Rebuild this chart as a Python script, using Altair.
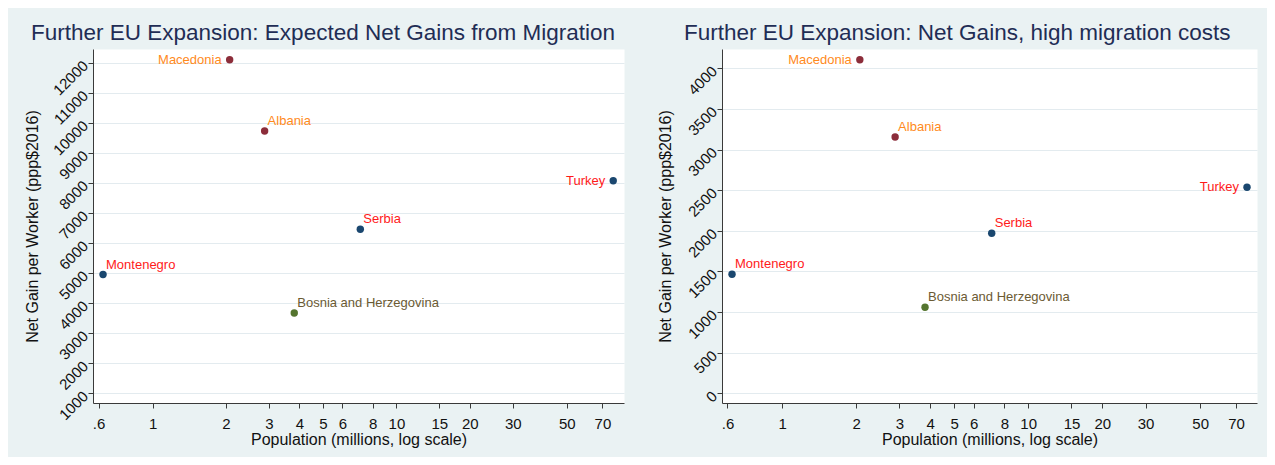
import altair as alt
import pandas as pd

# ---- data ----
countries = ["Macedonia", "Albania", "Turkey", "Serbia", "Bosnia and Herzegovina", "Montenegro"]
status = ["Candidate", "Candidate", "Negotiating", "Negotiating", "Potential candidate", "Negotiating"]

population = [2.07, 2.88, 77.5, 7.11, 3.81, 0.626]  # millions
gain_left = [12100, 9730, 8070, 6460, 3670, 4950]  # expected net gain
gain_right = [4105, 3155, 2535, 1970, 1060, 1465]  # high migration costs

x_ticks = [0.6, 1, 2, 3, 4, 5, 6, 8, 10, 15, 20, 30, 50, 70]
x_tick_labels = [".6", "1", "2", "3", "4", "5", "6", "8", "10", "15", "20", "30", "50", "70"]
y_ticks_left = [1000, 2000, 3000, 4000, 5000, 6000, 7000, 8000, 9000, 10000, 11000, 12000]
y_ticks_right = [0, 500, 1000, 1500, 2000, 2500, 3000, 3500, 4000]

left_labeled = ["Macedonia", "Turkey"]

status_order = ["Candidate", "Negotiating", "Potential candidate"]
dot_colors = ["#8C2D3A", "#1A476F", "#55752F"]
label_colors = ["#FF8A1C", "#FF1A1A", "#6B5A33"]

FONT = "Liberation Sans"
TITLE_COLOR = "#1F2D55"

label_expr = " : ".join(
    [f"datum.value == {v} ? '{l}'" for v, l in zip(x_ticks, x_tick_labels)] + ["datum.label"]
)


def panel(gain, title, title_dx, xdom, ydom, yticks, ytitle_x, w, h):
    df = pd.DataFrame({"country": countries, "status": status, "pop": population, "gain": gain})
    x = alt.X(
        "pop:Q",
        scale=alt.Scale(type="log", domain=xdom, nice=False),
        axis=alt.Axis(
            values=x_ticks,
            tickCount=40,
            labelExpr=label_expr,
            labelOverlap=False,
            grid=False,
            title="Population (millions, log scale)",
            titleY=36,
            titleAlign="center",
            titleBaseline="middle",
            labelPadding=8,
        ),
    )
    y = alt.Y(
        "gain:Q",
        scale=alt.Scale(domain=ydom, nice=False, zero=False),
        axis=alt.Axis(
            values=yticks,
            tickCount=40,
            format="d",
            labelOverlap=False,
            labelAngle=315,
            labelAlign="right",
            labelBaseline="middle",
            labelPadding=3,
            grid=True,
            title="Net Gain per Worker (ppp$2016)",
            titleAngle=270,
            titleX=ytitle_x,
            titleY=177,
            titleAlign="center",
            titleBaseline="middle",
        ),
    )
    base = alt.Chart(df)
    dots = base.mark_circle(size=55, opacity=1).encode(
        x=x,
        y=y,
        color=alt.Color("status:N", scale=alt.Scale(domain=status_order, range=dot_colors), legend=None),
    )
    lab_color = alt.Color("status:N", scale=alt.Scale(domain=status_order, range=label_colors), legend=None)
    txt_right = base.transform_filter(
        ~alt.FieldOneOfPredicate(field="country", oneOf=left_labeled)
    ).mark_text(align="left", baseline="middle", dx=3, dy=-10, fontSize=13, font=FONT).encode(
        x="pop:Q", y="gain:Q", text="country:N", color=lab_color
    )
    txt_left = base.transform_filter(
        alt.FieldOneOfPredicate(field="country", oneOf=left_labeled)
    ).mark_text(align="right", baseline="middle", dx=-8, dy=0, fontSize=13, font=FONT).encode(
        x="pop:Q", y="gain:Q", text="country:N", color=lab_color
    )
    return (
        alt.layer(dots, txt_right, txt_left)
        .resolve_scale(color="independent")
        .properties(
            width=w,
            height=h,
            title=alt.TitleParams(
                title,
                anchor="start",
                frame="group",
                dx=title_dx,
                offset=-13,
                baseline="alphabetic",
                fontSize=22.5,
                font=FONT,
                fontWeight="normal",
                color=TITLE_COLOR,
            ),
        )
    )


left = panel(
    gain_left,
    "Further EU Expansion: Expected Net Gains from Migration", -62,
    [0.5694, 85.8], [677, 12456], y_ticks_left, -61, 531, 354,
)
right = panel(
    gain_right,
    "Further EU Expansion: Net Gains, high migration costs", -38,
    [0.570, 85.1], [-119, 4237], y_ticks_right, -57, 535, 354,
)

chart = (
    alt.hconcat(left, right, spacing=98, bounds="flush")
    .properties(padding={"left": 16, "top": 13, "right": 10, "bottom": 10})
    .configure(background="#EAF2F3", font=FONT)
    .configure_view(fill="white", strokeOpacity=0)
    .configure_axis(
        domainColor="#3A3A3A",
        tickColor="#3A3A3A",
        tickSize=5,
        labelFont=FONT,
        labelFontSize=15,
        labelColor="#111111",
        titleFont=FONT,
        titleFontSize=16,
        titleFontWeight="normal",
        titleColor="#111111",
        gridColor="#E3EBEF",
        gridWidth=1.2,
    )
)

chart.save("out.html", embed_options={"renderer": "svg", "actions": False})
